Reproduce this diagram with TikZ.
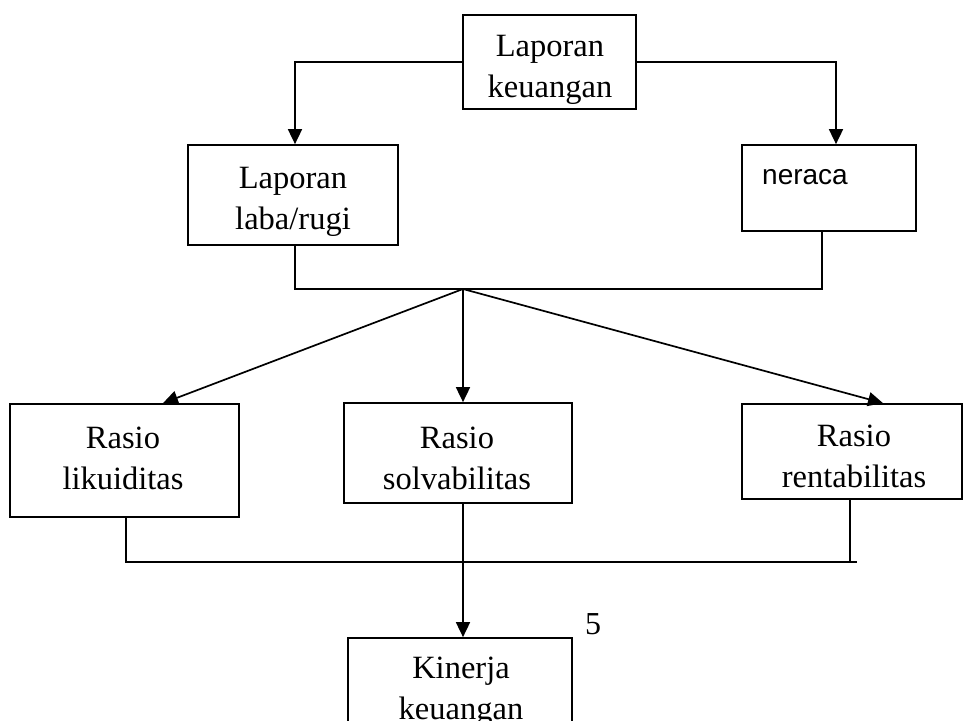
\documentclass[tikz,border=0pt]{standalone}
\usepackage{fontspec}
\setmainfont{Liberation Serif}
\newfontfamily\sansf{Liberation Sans}
\usetikzlibrary{arrows.meta}
\begin{document}
\begin{tikzpicture}[x=1pt,y=1pt,
  box/.style={draw, line width=1.7pt, rectangle, inner sep=0pt},
  lbl/.style={inner sep=0pt, align=center, font=\fontsize{32.5}{41}\selectfont},
  conn/.style={line width=1.7pt},
  arr/.style={conn, -{Triangle[length=15pt,width=14pt]}}]
\clip (0,0) rectangle (963,720);
\fill[white] (0,0) rectangle (963,720);

\node[box, minimum width=173pt, minimum height=94pt] (top) at (549.5,658) {};
\node[lbl] (topT) at (550,650) {Laporan\\keuangan};
\node[box, minimum width=210pt, minimum height=100pt] (laba) at (293,525) {};
\node[lbl] (labaT) at (293,518.5) {Laporan\\laba/rugi};
\node[box, minimum width=174pt, minimum height=86pt] (neraca) at (829,532) {};
\node[anchor=west, inner sep=0pt, font=\sansf\fontsize{28}{34}\selectfont] (nerlbl) at (762,543) {neraca};

\node[box, minimum width=229pt, minimum height=113pt] (liku) at (124.5,259.5) {};
\node[lbl] (likuT) at (123,262) {Rasio\\likuiditas};
\node[box, minimum width=228pt, minimum height=100pt] (solv) at (458,267) {};
\node[lbl] (solvT) at (457,262) {Rasio\\solvabilitas};
\node[box, minimum width=220pt, minimum height=95pt] (rent) at (852,268.5) {};
\node[lbl] (rentT) at (854,264) {Rasio\\rentabilitas};

\node[box, minimum width=224pt, minimum height=110pt] (kin) at (460,27) {};
\node[lbl] (kinT) at (461,28.5) {Kinerja\\keuangan};
\node[inner sep=0pt, font=\fontsize{32}{36}\selectfont] (five) at (593,96) {5};

\coordinate (j) at (463,431);
\coordinate (kR) at (857,158);

\draw[arr] (top.west) -| ([xshift=2pt]laba.north);
\draw[arr] (top.east) -| ([xshift=7pt]neraca.north);

\draw[conn] ([xshift=2pt]laba.south) |- (j) -| ([xshift=-7pt]neraca.south);

\draw[arr] (j) -- ([xshift=38.5pt]liku.north);
\draw[arr] (j) -- (j |- solv.north);
\draw[arr] (j) -- ([xshift=31pt]rent.north);

\draw[conn] ([xshift=1.5pt]liku.south) |- (kR);
\draw[conn] ([xshift=-2pt]rent.south) -- ([xshift=-2pt]rent.south |- kR);
\draw[arr] (j |- solv.south) -- (j |- kin.north);
\end{tikzpicture}
\end{document}
